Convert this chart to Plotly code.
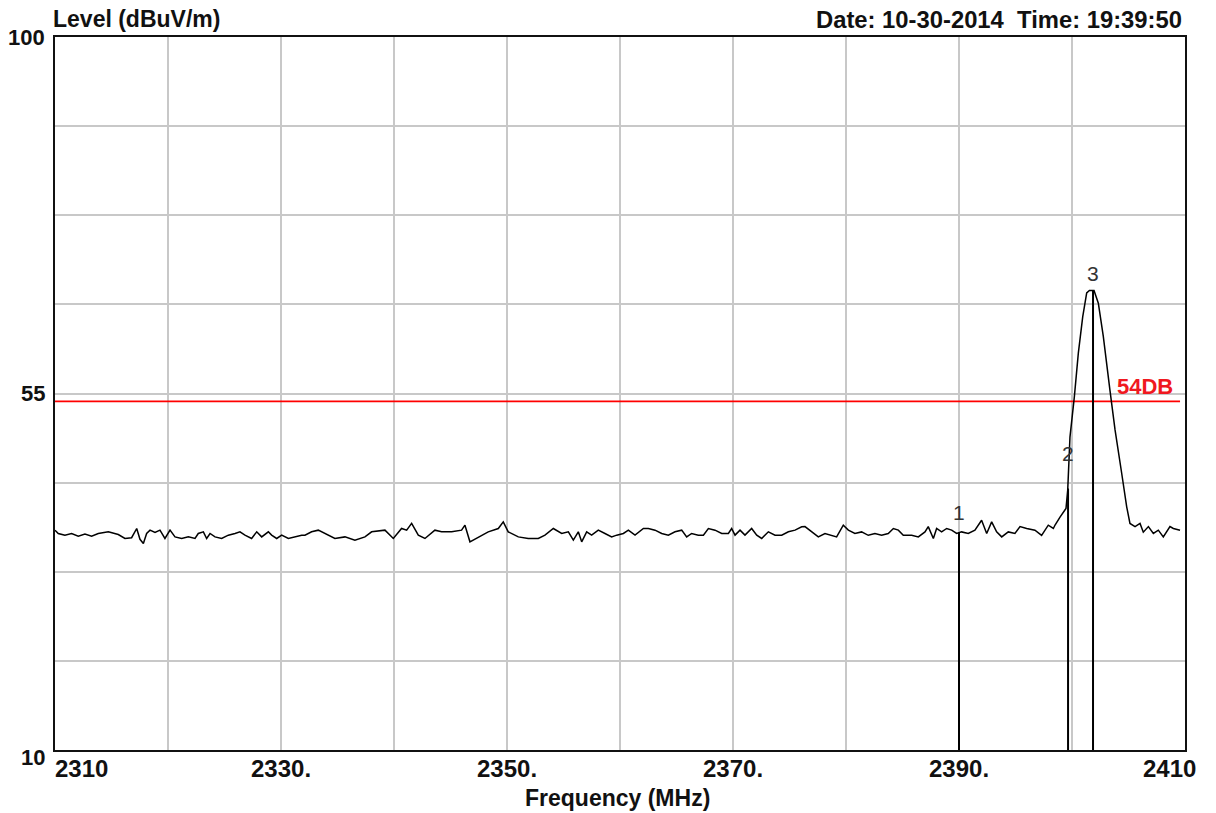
import plotly.graph_objects as go

# Spectrum trace: frequency (MHz) and field strength level (dBuV/m)
freq_mhz = [
    2310.00, 2310.29, 2310.88, 2311.47, 2312.06, 2312.65, 2313.24, 2313.83, 2314.72, 2315.60,
    2316.19, 2316.78, 2317.23, 2317.52, 2317.82, 2318.11, 2318.41, 2318.85, 2319.29, 2319.73,
    2320.18, 2320.62, 2321.21, 2321.80, 2322.39, 2322.68, 2323.13, 2323.42, 2323.72, 2324.16,
    2324.75, 2325.34, 2325.93, 2326.37, 2326.81, 2327.40, 2327.85, 2328.29, 2328.88, 2329.17,
    2329.62, 2330.06, 2330.65, 2331.24, 2331.83,
    2332.12, 2332.71, 2333.30, 2333.89, 2334.77, 2335.66, 2336.54, 2337.43, 2338.02, 2339.20,
    2339.94, 2340.67, 2341.12, 2341.56, 2342.15, 2342.74, 2343.62, 2344.21, 2345.10, 2345.98,
    2346.28, 2346.72, 2347.46, 2348.34, 2349.23, 2349.67, 2350.11, 2351.00, 2351.88, 2352.77,
    2353.36, 2354.10,
    2354.84, 2355.43, 2355.87, 2356.31, 2356.61, 2357.05, 2357.49, 2358.08, 2358.67, 2359.26,
    2359.71, 2360.30, 2360.74, 2361.33, 2362.07, 2362.51, 2363.10, 2363.69, 2364.28, 2364.87,
    2365.46, 2365.90, 2366.34, 2366.93, 2367.38, 2367.82, 2368.41, 2369.00, 2369.59, 2369.88,
    2370.18, 2370.62, 2371.06, 2371.65, 2372.10, 2372.54, 2373.13, 2373.72, 2374.31, 2374.90,
    2375.49, 2376.08,
    2376.37, 2376.96, 2377.55, 2378.14, 2378.73, 2379.17, 2379.76, 2380.21, 2380.79, 2381.38,
    2381.97, 2382.56, 2383.15, 2383.74, 2384.19, 2384.63, 2385.07, 2385.81, 2386.40, 2386.99,
    2387.28, 2387.73, 2388.02, 2388.46, 2388.91, 2389.35, 2389.79, 2390.23, 2390.82, 2391.41,
    2392.00, 2392.45, 2392.89, 2393.33, 2393.78, 2394.36, 2394.95, 2395.40, 2395.99, 2396.72,
    2397.31, 2397.90, 2398.35, 2398.50,
    2398.94, 2399.47, 2399.62, 2399.82, 2400.21, 2400.56, 2400.95, 2401.30, 2401.54, 2401.95,
    2402.33, 2402.77, 2403.36, 2403.81, 2404.40, 2404.84, 2405.13, 2405.58,
    2406.02, 2406.31, 2406.76, 2407.20, 2407.64, 2408.08, 2408.67, 2408.97, 2409.56,
]
level_dbuv = [
    37.75, 37.33, 37.12, 37.33, 37.00, 37.25, 37.00, 37.33, 37.54, 37.20,
    36.70, 36.80, 37.96, 36.60, 36.07, 37.33, 37.75, 37.45, 37.75, 36.70,
    37.75, 36.90, 36.70, 36.90, 36.70, 37.33, 37.54, 36.70, 37.33, 36.90,
    36.70, 37.12, 37.33, 37.54, 37.12, 36.70, 37.54, 36.90, 37.54, 37.12,
    36.70, 37.12, 36.70, 36.90, 37.12,
    37.12, 37.54, 37.75, 37.33, 36.70, 36.90, 36.49, 36.90, 37.54, 37.75,
    36.70, 37.96, 37.75, 38.60, 37.12, 36.70, 37.75, 37.54, 37.54, 37.75,
    38.38, 36.28, 36.90, 37.54, 37.96, 38.80, 37.54, 36.90, 36.70, 36.70,
    37.12, 37.96,
    37.33, 37.54, 36.49, 37.54, 36.28, 37.54, 37.12, 37.75, 37.33, 36.90,
    37.12, 37.33, 37.75, 37.12, 37.96, 37.96, 37.75, 37.33, 37.12, 37.54,
    37.75, 36.90, 37.33, 37.12, 37.12, 37.96, 37.75, 37.33, 37.33, 37.96,
    37.12, 37.75, 37.12, 37.96, 37.12, 36.70, 37.54, 37.12, 37.12, 37.54,
    37.75, 38.17,
    38.20, 37.53, 36.90, 37.33, 37.10, 36.90, 38.38, 37.75, 37.33, 37.53,
    37.10, 37.33, 37.10, 37.33, 37.96, 37.75, 37.10, 37.10, 36.90, 37.53,
    38.20, 36.70, 37.96, 37.53, 37.96, 37.75, 37.33, 37.53, 37.33, 37.75,
    39.00, 37.33, 38.80, 37.53, 36.90, 37.53, 37.33, 38.20, 37.96, 37.75,
    37.10, 38.38, 37.96, 38.40,
    39.40, 40.50, 42.80, 49.50, 54.60, 60.10, 64.70, 67.70, 68.00, 68.00,
    66.40, 62.20, 55.40, 50.40, 44.90, 40.70, 38.60, 38.20,
    38.60, 37.50, 38.20, 37.33, 37.75, 36.90, 38.20, 37.96, 37.75,
]

# Axis labelling
x_tick_values = [2310, 2330, 2350, 2370, 2390, 2410]
x_tick_text = ["2310", "2330.", "2350.", "2370.", "2390.", "2410"]
y_tick_values = [10, 55, 100]
y_tick_text = ["10", "55", "100"]

# Limit line
limit_level = 54
limit_label = "54DB"

# Markers
marker_freq = [2390.0, 2399.65, 2401.86]
marker_level = [37.5, 43.0, 68.0]
marker_text = ["1", "2", "3"]

FONT = "Arial, Liberation Sans, sans-serif"
GRID = "#c8c8c8"

fig = go.Figure()

# limit line across the sweep
fig.add_trace(go.Scatter(
    x=[freq_mhz[0], freq_mhz[-1]], y=[limit_level, limit_level],
    mode="lines", line=dict(color="#ff0000", width=1.6),
    hoverinfo="skip", showlegend=False,
))

# measured trace
fig.add_trace(go.Scatter(
    x=freq_mhz, y=level_dbuv, mode="lines",
    line=dict(color="#000000", width=1.5),
    showlegend=False,
))

# marker drop lines from the floor of the axis up to the marker level
mx, my = [], []
for f, lv in zip(marker_freq, marker_level):
    mx += [f, f, None]
    my += [10, lv, None]
fig.add_trace(go.Scatter(
    x=mx, y=my, mode="lines", line=dict(color="#000000", width=2),
    hoverinfo="skip", showlegend=False,
))

annotations = []

# marker numbers
label_lift = [6, 22, 4]
for f, lv, t, dy in zip(marker_freq, marker_level, marker_text, label_lift):
    annotations.append(dict(
        x=f, y=lv, xref="x", yref="y", text=t, showarrow=False,
        xanchor="center", yanchor="bottom", yshift=dy,
        font=dict(family=FONT, size=21, color="#333333"),
    ))

# limit label
annotations.append(dict(
    x=freq_mhz[-1], y=limit_level, xref="x", yref="y", text=f"<b>{limit_label}</b>",
    showarrow=False, xanchor="right", yanchor="bottom", xshift=-5, yshift=0,
    font=dict(family=FONT, size=22, color="#f01820"),
))

# x tick labels: first one starts at the axis origin, last one ends just past the frame
for i, (v, t) in enumerate(zip(x_tick_values, x_tick_text)):
    if i == 0:
        anchor, dx = "left", -2
    elif i == len(x_tick_values) - 1:
        anchor, dx = "right", 13
    else:
        anchor, dx = "center", 0
    annotations.append(dict(
        x=v, y=0, xref="x", yref="paper", text=f"<b>{t}</b>",
        showarrow=False, xanchor=anchor, yanchor="middle", xshift=dx, yshift=-18,
        font=dict(family=FONT, size=24, color="#111111"),
    ))

# y tick labels
for v, t in zip(y_tick_values, y_tick_text):
    annotations.append(dict(
        x=0, y=v, xref="paper", yref="y", text=f"<b>{t}</b>", showarrow=False,
        xanchor="right", yanchor="middle", xshift=-8,
        yshift=-7 if v == y_tick_values[0] else 0,
        font=dict(family=FONT, size=22, color="#111111"),
    ))

# headers and axis title
annotations.append(dict(
    x=0, y=1, xref="paper", yref="paper", text="<b>Level (dBuV/m)</b>",
    showarrow=False, xanchor="left", yanchor="middle", xshift=-4, yshift=18,
    font=dict(family=FONT, size=23, color="#111111"),
))
annotations.append(dict(
    x=1, y=1, xref="paper", yref="paper",
    text="<b>Date: 10-30-2014&nbsp;&nbsp;Time: 19:39:50</b>",
    showarrow=False, xanchor="right", yanchor="middle", xshift=-1, yshift=18,
    font=dict(family=FONT, size=23.8, color="#111111"),
))
annotations.append(dict(
    x=0.5, y=0, xref="paper", yref="paper", text="<b>Frequency (MHz)</b>",
    showarrow=False, xanchor="center", yanchor="middle", xshift=-3, yshift=-48,
    font=dict(family=FONT, size=23, color="#111111"),
))

fig.update_layout(
    width=1216, height=813,
    margin=dict(l=55, r=31, t=37, b=63),
    paper_bgcolor="white", plot_bgcolor="white",
    showlegend=False,
    annotations=annotations,
    xaxis=dict(
        range=[2310, 2410], tick0=2310, dtick=10,
        showgrid=True, gridcolor=GRID, gridwidth=2,
        showticklabels=False, ticks="", zeroline=False,
        showline=True, linecolor="#111111", linewidth=2, mirror=True,
    ),
    yaxis=dict(
        range=[10, 100], tick0=10, dtick=11.25,
        showgrid=True, gridcolor=GRID, gridwidth=2,
        showticklabels=False, ticks="", zeroline=False,
        showline=True, linecolor="#111111", linewidth=2, mirror=True,
    ),
)

fig.write_html("out.html")
